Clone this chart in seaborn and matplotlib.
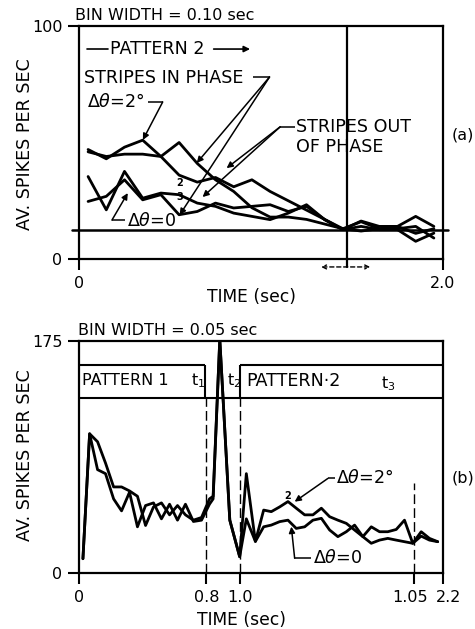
import matplotlib
matplotlib.use("Agg")
import matplotlib.pyplot as plt
import matplotlib.transforms as mtrans
import pandas as pd
import seaborn as sns

sns.set_style("ticks")
plt.rcParams['font.family'] = ['DejaVu Sans']
plt.rcParams['mathtext.fontset'] = 'dejavusans'
plt.rcParams['text.color'] = 'black'
plt.rcParams['axes.labelcolor'] = 'black'
plt.rcParams['xtick.color'] = 'black'
plt.rcParams['ytick.color'] = 'black'

# ---------------- data: panel (a), bin width 0.10 s ----------------
time_a = [0.05, 0.15, 0.25, 0.35, 0.45, 0.55, 0.65, 0.75, 0.85, 0.95,
          1.05, 1.15, 1.25, 1.35, 1.45, 1.55, 1.65, 1.75, 1.85, 1.95]
a_in_2deg = [47, 43, 48, 51, 44, 36, 33, 35, 31, 34,
             29, 25, 21, 17, 13, 16, 13, 13, 14, 9]
a_out_2deg = [46, 44, 45, 45, 44, 50, 41, 34, 29, 22,
              18, 18, 17, 15, 13, 12, 13, 14, 11, 13]
a_in_0 = [35.4, 21.1, 37.6, 26.1, 28.3, 27.6, 24, 22.6, 19.7, 18.3,
          16.9, 19.7, 23.3, 16.9, 12.6, 16.3, 14, 14, 18.3, 14]
a_out_0 = [24.7, 26.9, 34, 25.4, 27.6, 19, 20.4, 24, 21.9, 22.6,
           23.3, 20.4, 22.6, 16.9, 12.6, 14, 12.6, 12.6, 7.6, 11.1]
baseline_a = 12.4
marker_time_a = 1.47

# ---------------- data: panel (b), bin width 0.05 s ----------------
time_b = [0.023, 0.065, 0.115, 0.165, 0.216, 0.266, 0.316, 0.366, 0.417, 0.467,
          0.517, 0.568, 0.618, 0.668, 0.718, 0.769, 0.819,
          0.842, 0.884, 0.947, 1.009,
          1.051, 1.108, 1.160, 1.208, 1.261, 1.313, 1.365, 1.418, 1.470, 1.523,
          1.575, 1.627, 1.680, 1.732, 1.784, 1.837, 1.889, 1.941, 1.994, 2.046,
          2.098, 2.151, 2.203, 2.255]
b_2deg = [11, 105, 99, 83, 65, 65, 62, 58, 36, 50,
          53, 44, 51, 44, 40, 42, 56,
          58, 176, 40, 12.5,
          75, 24, 47.6, 46.4, 50, 54, 49, 44, 44, 49,
          42.6, 40, 37.6, 32.6, 27.6, 22.6, 25, 26.3, 25, 23.8,
          22.6, 31.3, 26.3, 23.8]
b_0 = [11, 105, 78, 75, 56, 47, 61, 35, 51, 53,
       41, 52, 40, 52, 39, 40, 52,
       56, 176, 40, 12.5,
       41, 24, 35, 36.3, 38.9, 40, 33.8, 35, 40, 41.4,
       32.6, 27.6, 31.3, 36.3, 27.6, 35, 31.3, 31.3, 33, 40,
       22.6, 28, 25, 23.8]

xticks_b = [0, 0.8, 1.014, 2.103, 2.29]
xticklabels_b = ["0", "0.8", "1.0", "1.05", "2.2"]

df_a = pd.concat([
    pd.DataFrame({"t": time_a, "v": a_in_2deg, "curve": "in2"}),
    pd.DataFrame({"t": time_a, "v": a_out_2deg, "curve": "out2"}),
    pd.DataFrame({"t": time_a, "v": a_in_0, "curve": "in0"}),
    pd.DataFrame({"t": time_a, "v": a_out_0, "curve": "out0"}),
])
df_b = pd.concat([
    pd.DataFrame({"t": time_b, "v": b_2deg, "curve": "d2"}),
    pd.DataFrame({"t": time_b, "v": b_0, "curve": "d0"}),
])

FS = 11.5      # numbers / small text
FSC = 12.6     # capital lettering
LW = 2.0

fig = plt.figure(figsize=(4.75, 6.29), dpi=100)
ax_a = fig.add_axes([0.1663, 0.5882, 0.7663, 0.3705])
ax_b = fig.add_axes([0.1669, 0.0885, 0.7663, 0.3698])

for ax in (ax_a, ax_b):
    for s in ax.spines.values():
        s.set_visible(True)
        s.set_linewidth(1.6)
        s.set_color("black")
    ax.tick_params(direction="out", length=8, width=1.5, labelsize=FS,
                   colors="black", labelcolor="black", pad=4)

sns.lineplot(data=df_a, x="t", y="v", units="curve", estimator=None,
             color="black", lw=LW, ax=ax_a, legend=False)
sns.lineplot(data=df_b, x="t", y="v", units="curve", estimator=None,
             color="black", lw=LW, ax=ax_b, legend=False)

for ax in (ax_a, ax_b):
    ax.set_xlabel("")
    ax.set_ylabel("")

# ---- panel (a) axes ----
ax_a.set_xlim(0, 2.0)
ax_a.set_ylim(0, 100)
ax_a.set_xticks([0, 2.0])
ax_a.set_xticklabels(["0", "2.0"])
ax_a.set_yticks([0, 100])
ax_a.set_yticklabels(["0", "100"])
ax_a.axhline(baseline_a, xmin=-0.02, xmax=1.015, color="black", lw=1.8, clip_on=False)
ax_a.axvline(marker_time_a, ymin=-0.035, ymax=1, color="black", lw=1.6, clip_on=False)
ax_a.annotate("", xy=(1.33, -3.4), xytext=(1.60, -3.4), annotation_clip=False,
              arrowprops=dict(arrowstyle="<->", ls=(0, (3, 2)), lw=1.0, color="black",
                              shrinkA=0, shrinkB=0, mutation_scale=7))


def leader(ax, pts, tips, lw=1.1):
    xs = [p[0] for p in pts]
    ys = [p[1] for p in pts]
    ax.plot(xs, ys, color="black", lw=lw, clip_on=False, solid_capstyle="butt")
    for tip in tips:
        ax.annotate("", xy=tip, xytext=pts[-1], annotation_clip=False,
                    arrowprops=dict(arrowstyle="-|>", lw=lw, color="black",
                                    shrinkA=0, shrinkB=0, mutation_scale=9))


# PATTERN 2 arrow
ax_a.plot([0.044, 0.160], [90.1, 90.1], color="black", lw=1.2)
ax_a.text(0.170, 90.1, "PATTERN 2", fontsize=FSC, va="center", ha="left")
ax_a.annotate("", xy=(0.94, 90.1), xytext=(0.74, 90.1),
              arrowprops=dict(arrowstyle="-|>", lw=1.2, color="black",
                              shrinkA=0, shrinkB=0, mutation_scale=9))

ax_a.text(0.030, 77.7, "STRIPES IN PHASE", fontsize=FSC, va="center", ha="left")
leader(ax_a, [(0.955, 78.1), (1.047, 78.1)], [(0.647, 41.2), (0.553, 18.9)])

ax_a.text(0.044, 67.2, r"$\Delta\theta$=2°", fontsize=FSC, va="center", ha="left")
leader(ax_a, [(0.378, 67.4), (0.46, 67.4)], [(0.351, 51.1)])

ax_a.text(1.195, 56.7, "STRIPES OUT", fontsize=FSC, va="center", ha="left")
ax_a.text(1.195, 48.0, "OF PHASE", fontsize=FSC, va="center", ha="left")
leader(ax_a, [(1.185, 56.7), (1.105, 56.7)], [(0.811, 39.0), (0.679, 26.6)])

ax_a.text(0.263, 16.3, r"$\Delta\theta$=0", fontsize=FSC, va="center", ha="left")
leader(ax_a, [(0.252, 16.7), (0.181, 16.7)], [(0.268, 28.3)])

ax_a.text(0.553, 32.6, "2", fontsize=7, va="center", ha="center", fontweight="bold")
ax_a.text(0.553, 26.6, "3", fontsize=7, va="center", ha="center", fontweight="bold")

# ---- panel (b) axes ----
ax_b.set_xlim(0, 2.29)
ax_b.set_ylim(0, 175)
ax_b.set_xticks(xticks_b)
ax_b.set_xticklabels(xticklabels_b)
ax_b.set_yticks([0, 175])
ax_b.set_yticklabels(["0", "175"])
shift = {"1.05": -3, "2.2": 5}
for lab in ax_b.get_xticklabels():
    d = shift.get(lab.get_text())
    if d:
        lab.set_transform(lab.get_transform() +
                          mtrans.ScaledTranslation(d / 100, 0, fig.dpi_scale_trans))

box_lo, box_hi = 131.7, 156.7
ax_b.hlines(box_lo, 0, 2.29, color="black", lw=1.5)
ax_b.hlines(box_hi, 0, 0.79, color="black", lw=1.5)
ax_b.hlines(box_hi, 1.014, 2.29, color="black", lw=1.5)
ax_b.vlines([0.79, 1.014], box_lo, box_hi, color="black", lw=1.5)
ax_b.vlines([0.8, 1.014], 0, box_lo, color="black", lw=1.0, linestyles=(0, (7, 3)))
ax_b.vlines([2.103], 0, 67.7, color="black", lw=1.0, linestyles=(0, (7, 3)))

ax_b.text(0.018, 145, "PATTERN 1", fontsize=FS, va="center", ha="left")
ax_b.text(0.70, 145, "t$_1$", fontsize=FS, va="center", ha="left")
ax_b.text(0.93, 145, "t$_2$", fontsize=FS, va="center", ha="left")
ax_b.text(1.051, 145, "PATTERN·2", fontsize=FSC, va="center", ha="left")
ax_b.text(1.90, 143, "t$_3$", fontsize=FS, va="center", ha="left")

ax_b.text(1.617, 71.4, r"$\Delta\theta$=2°", fontsize=FSC, va="center", ha="left")
leader(ax_b, [(1.606, 71.4), (1.564, 71.4)], [(1.355, 53.9)])
ax_b.text(1.47, 11.3, r"$\Delta\theta$=0", fontsize=FSC, va="center", ha="left")
leader(ax_b, [(1.46, 11.3), (1.355, 11.3)], [(1.334, 35.1)])
ax_b.text(1.31, 58, "2", fontsize=7, va="center", ha="center", fontweight="bold")

# ---- figure texts ----
fig.text(0.158, 0.976, "BIN WIDTH = 0.10 sec", fontsize=FS, va="center", ha="left")
fig.text(0.164, 0.474, "BIN WIDTH = 0.05 sec", fontsize=FS, va="center", ha="left")
fig.text(0.053, 0.771, "AV. SPIKES PER SEC", fontsize=FSC, rotation=90, va="center", ha="center")
fig.text(0.053, 0.277, "AV. SPIKES PER SEC", fontsize=FSC, rotation=90, va="center", ha="center")
fig.text(0.5305, 0.528, "TIME (sec)", fontsize=12.3, va="center", ha="center")
fig.text(0.509, 0.0143, "TIME (sec)", fontsize=12.3, va="center", ha="center")
fig.text(0.998, 0.785, "(a)", fontsize=FS, va="center", ha="right")
fig.text(0.998, 0.24, "(b)", fontsize=FS, va="center", ha="right")

fig.savefig("out.png", dpi=100)
